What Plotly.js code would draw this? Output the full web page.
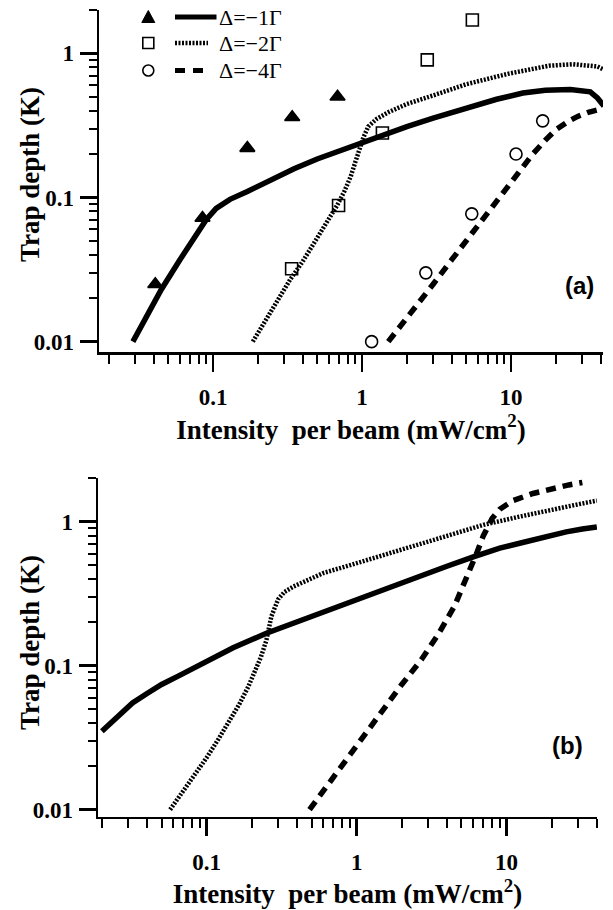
<!DOCTYPE html>
<html>
<head>
<meta charset="utf-8">
<script src="https://cdn.plot.ly/plotly-3.0.1.min.js"></script>
<style>html,body{margin:0;padding:0;background:#fff;}#chart{width:613px;height:910px;}</style>
</head>
<body>
<div id="chart"></div>
<script>
// ---------- Panel (a): measured points ----------
const triX = [0.041, 0.085, 0.17, 0.34, 0.685];
const triY = [0.025, 0.072, 0.22, 0.36, 0.5];
const sqX = [0.337, 0.696, 1.37, 2.74, 5.5];
const sqY = [0.032, 0.088, 0.28, 0.9, 1.7];
const circX = [1.16, 2.68, 5.45, 10.8, 16.3];
const circY = [0.010, 0.030, 0.077, 0.2, 0.34];

// ---------- Panel (a): calculated curves ----------
const a1X = [0.029, 0.035, 0.045, 0.06, 0.075, 0.09, 0.105, 0.13, 0.17, 0.25, 0.35, 0.5, 0.7, 1.0, 1.4, 2, 3, 5, 8, 12, 17, 25, 30, 34, 38, 42];
const a1Y = [0.01, 0.0145, 0.023, 0.037, 0.053, 0.07, 0.084, 0.097, 0.11, 0.135, 0.158, 0.185, 0.21, 0.24, 0.275, 0.31, 0.355, 0.415, 0.48, 0.53, 0.555, 0.56, 0.555, 0.54, 0.49, 0.43];
const a2X = [0.185, 0.22, 0.27, 0.33, 0.4, 0.5, 0.6, 0.68, 0.76, 0.84, 0.9, 0.96, 1.02, 1.1, 1.25, 1.5, 2, 3, 5, 9.5, 14, 18, 26, 33, 38, 42];
const a2Y = [0.01, 0.0135, 0.019, 0.027, 0.036, 0.052, 0.07, 0.088, 0.11, 0.14, 0.175, 0.22, 0.26, 0.31, 0.35, 0.39, 0.445, 0.51, 0.61, 0.72, 0.78, 0.82, 0.84, 0.83, 0.81, 0.77];
const a4X = [1.5, 2, 3, 4, 5.5, 7, 8.5, 10, 12, 14, 17, 20, 24, 28, 33, 38];
const a4Y = [0.01, 0.0145, 0.025, 0.037, 0.057, 0.079, 0.1, 0.126, 0.16, 0.2, 0.25, 0.295, 0.335, 0.365, 0.39, 0.405];

// ---------- Panel (b): calculated curves ----------
const b1X = [0.02, 0.025, 0.032, 0.04, 0.05, 0.065, 0.08, 0.1, 0.15, 0.25, 0.4, 0.6, 1, 1.6, 2.5, 4, 6, 9, 13, 18, 25, 32, 40];
const b1Y = [0.035, 0.043, 0.055, 0.064, 0.074, 0.085, 0.095, 0.107, 0.133, 0.168, 0.202, 0.236, 0.29, 0.345, 0.41, 0.49, 0.57, 0.655, 0.72, 0.785, 0.85, 0.89, 0.92];
const b2X = [0.057, 0.07, 0.085, 0.1, 0.12, 0.14, 0.165, 0.19, 0.21, 0.23, 0.25, 0.27, 0.3, 0.33, 0.38, 0.46, 0.6, 1, 2, 4, 7, 12, 20, 30, 40];
const b2Y = [0.01, 0.0135, 0.018, 0.023, 0.031, 0.04, 0.054, 0.072, 0.09, 0.115, 0.15, 0.22, 0.29, 0.325, 0.355, 0.39, 0.44, 0.515, 0.64, 0.8, 0.95, 1.08, 1.22, 1.32, 1.4];
const b4X = [0.485, 0.7, 1, 1.5, 2, 2.7, 3.5, 4.5, 5.5, 6.3, 7, 8, 9, 11, 15, 20, 26, 32];
const b4Y = [0.01, 0.0168, 0.028, 0.05, 0.074, 0.11, 0.165, 0.26, 0.42, 0.6, 0.8, 1.05, 1.22, 1.4, 1.57, 1.7, 1.8, 1.87];

// ---------- Labels ----------
const seriesNames = ['\u0394=\u22121\u0393', '\u0394=\u22122\u0393', '\u0394=\u22124\u0393'];
const xTickVals = [0.1, 1, 10];
const xTickText = ['0.1', '1', '10'];
const yTickVals = [0.01, 0.1, 1];
const yTickText = ['0.01', '0.1', '1'];
const xTitle = 'Intensity\u00A0 per beam (mW/cm<sup>2</sup>)';
const yTitle = 'Trap depth (K)';

// minor tick positions (digits 2..9 of each decade)
function minorTicks(decades, extra) {
  const out = [];
  decades.forEach(d => { for (let k = 2; k <= 9; k++) out.push(+(k * d).toPrecision(3)); });
  return out.concat(extra || []);
}
const minorX = minorTicks([0.01, 0.1, 1], [20, 30, 40]);
const minorY = minorTicks([0.01, 0.1], [2]);

const W = 613, H = 910;
const px = v => v / W;
const py = v => 1 - v / H;

const SOLID = {color: '#000', width: 5.5, dash: 'solid'};
const DOTTED = {color: '#000', width: 4.5, dash: '2px,1.5px'};
const DASHED = {color: '#000', width: 5.5, dash: '10px,7px'};

function line(x, y, l, xa, ya, name) {
  return {x, y, type: 'scatter', mode: 'lines', line: l, xaxis: xa, yaxis: ya, name};
}
function pts(x, y, sym, xa, ya, name) {
  return {x, y, type: 'scatter', mode: 'markers', xaxis: xa, yaxis: ya, name,
    marker: {symbol: sym, size: sym === 'triangle-up' ? 13 : 12, color: '#000', line: {color: '#000', width: 1.6}}};
}

const traces = [
  line(a1X, a1Y, SOLID, 'x', 'y', seriesNames[0]),
  line(a2X, a2Y, DOTTED, 'x', 'y', seriesNames[1]),
  line(a4X, a4Y, DASHED, 'x', 'y', seriesNames[2]),
  pts(triX, triY, 'triangle-up', 'x', 'y', seriesNames[0]),
  pts(sqX, sqY, 'square-open', 'x', 'y', seriesNames[1]),
  pts(circX, circY, 'circle-open', 'x', 'y', seriesNames[2]),
  line(b1X, b1Y, SOLID, 'x2', 'y2', seriesNames[0]),
  line(b2X, b2Y, DOTTED, 'x2', 'y2', seriesNames[1]),
  line(b4X, b4Y, DASHED, 'x2', 'y2', seriesNames[2])
];

const tickFont = {family: 'Liberation Serif', size: 23, color: '#000', weight: 'bold'};
const titleFont = {family: 'Liberation Serif', size: 27, color: '#000', weight: 'bold'};

function xAxis(domain, range, anchor) {
  return {
    type: 'log', domain, range, anchor,
    tickmode: 'array', tickvals: xTickVals, ticktext: xTickText,
    ticks: 'outside', ticklen: 17, tickwidth: 2.5, tickcolor: '#000',
    showline: true, linewidth: 2.5, linecolor: '#000', mirror: false,
    showgrid: false, zeroline: false, tickfont: tickFont, ticklabelstandoff: 6,
    minor: {tickmode: 'array', tickvals: minorX, ticks: 'outside', ticklen: 9, tickwidth: 2, tickcolor: '#000', showgrid: false},
    title: {text: xTitle, font: titleFont, standoff: 7},
    automargin: false, fixedrange: true
  };
}
function yAxis(domain, range, anchor) {
  return {
    type: 'log', domain, range, anchor,
    tickmode: 'array', tickvals: yTickVals, ticktext: yTickText,
    ticks: 'outside', ticklen: 17, tickwidth: 2.5, tickcolor: '#000',
    showline: true, linewidth: 2.5, linecolor: '#000', mirror: false,
    showgrid: false, zeroline: false, tickfont: tickFont, ticklabelstandoff: 1,
    minor: {tickmode: 'array', tickvals: minorY, ticks: 'outside', ticklen: 8, tickwidth: 2, tickcolor: '#000', showgrid: false},
    automargin: false, fixedrange: true
  };
}

// legend drawn in panel (a)
const rowY = [17, 43, 70.5];
const mX = 148.3;
const shapes = [
  {type: 'path', xref: 'paper', yref: 'paper', xsizemode: 'pixel', ysizemode: 'pixel',
   xanchor: px(mX), yanchor: py(rowY[0]), path: 'M -6.5 -5.5 L 6.5 -5.5 L 0 6.5 Z',
   fillcolor: '#000', line: {color: '#000', width: 1}},
  {type: 'rect', xref: 'paper', yref: 'paper', xsizemode: 'pixel', ysizemode: 'pixel',
   xanchor: px(mX), yanchor: py(rowY[1]), x0: -5.5, x1: 5.5, y0: -5.5, y1: 5.5,
   line: {color: '#000', width: 1.6}},
  {type: 'circle', xref: 'paper', yref: 'paper', xsizemode: 'pixel', ysizemode: 'pixel',
   xanchor: px(mX), yanchor: py(rowY[2]), x0: -5.5, x1: 5.5, y0: -5.5, y1: 5.5,
   line: {color: '#000', width: 1.6}},
  {type: 'line', xref: 'paper', yref: 'paper', x0: px(175), x1: px(216.5), y0: py(rowY[0]), y1: py(rowY[0]), line: {color: '#000', width: 5}},
  {type: 'line', xref: 'paper', yref: 'paper', x0: px(175), x1: px(208), y0: py(rowY[1]), y1: py(rowY[1]), line: {color: '#000', width: 4.5, dash: '2px,1.5px'}},
  {type: 'line', xref: 'paper', yref: 'paper', x0: px(175), x1: px(203), y0: py(rowY[2]), y1: py(rowY[2]), line: {color: '#000', width: 5, dash: '10px,8px'}}
];

const annotations = seriesNames.map((t, i) => ({
  text: t, xref: 'paper', yref: 'paper', x: px(217), y: py(rowY[i]), xanchor: 'left', yanchor: 'middle',
  showarrow: false, font: {family: 'Liberation Serif', size: 22, color: '#000'}
})).concat([
  {text: '(a)', xref: 'paper', yref: 'paper', x: px(579), y: py(285), xanchor: 'center', yanchor: 'middle',
   showarrow: false, font: {family: 'Liberation Sans', size: 24, color: '#000', weight: 'bold'}},
  {text: '(b)', xref: 'paper', yref: 'paper', x: px(567), y: py(745), xanchor: 'center', yanchor: 'middle',
   showarrow: false, font: {family: 'Liberation Sans', size: 24, color: '#000', weight: 'bold'}},
  {text: yTitle, xref: 'paper', yref: 'paper', x: px(30), y: py(175), xanchor: 'center', yanchor: 'middle',
   textangle: -90, showarrow: false, font: titleFont},
  {text: yTitle, xref: 'paper', yref: 'paper', x: px(30), y: py(643), xanchor: 'center', yanchor: 'middle',
   textangle: -90, showarrow: false, font: titleFont}
]);

const layout = {
  width: W, height: H,
  margin: {l: 0, r: 0, t: 0, b: 0, pad: 0},
  paper_bgcolor: '#fff', plot_bgcolor: 'rgba(0,0,0,0)',
  showlegend: false,
  xaxis: xAxis([px(99), px(603)], [-1.765, 1.617], 'y'),
  yaxis: yAxis([py(352.3), py(9.75)], [-2.074, 0.302], 'x'),
  xaxis2: xAxis([px(98), px(597)], [-1.725, 1.603], 'y2'),
  yaxis2: yAxis([py(816.7), py(478.2)], [-2.049, 0.302], 'x2'),
  shapes, annotations
};

Plotly.newPlot('chart', traces, layout, {staticPlot: true, displayModeBar: false});
</script>
</body>
</html>
